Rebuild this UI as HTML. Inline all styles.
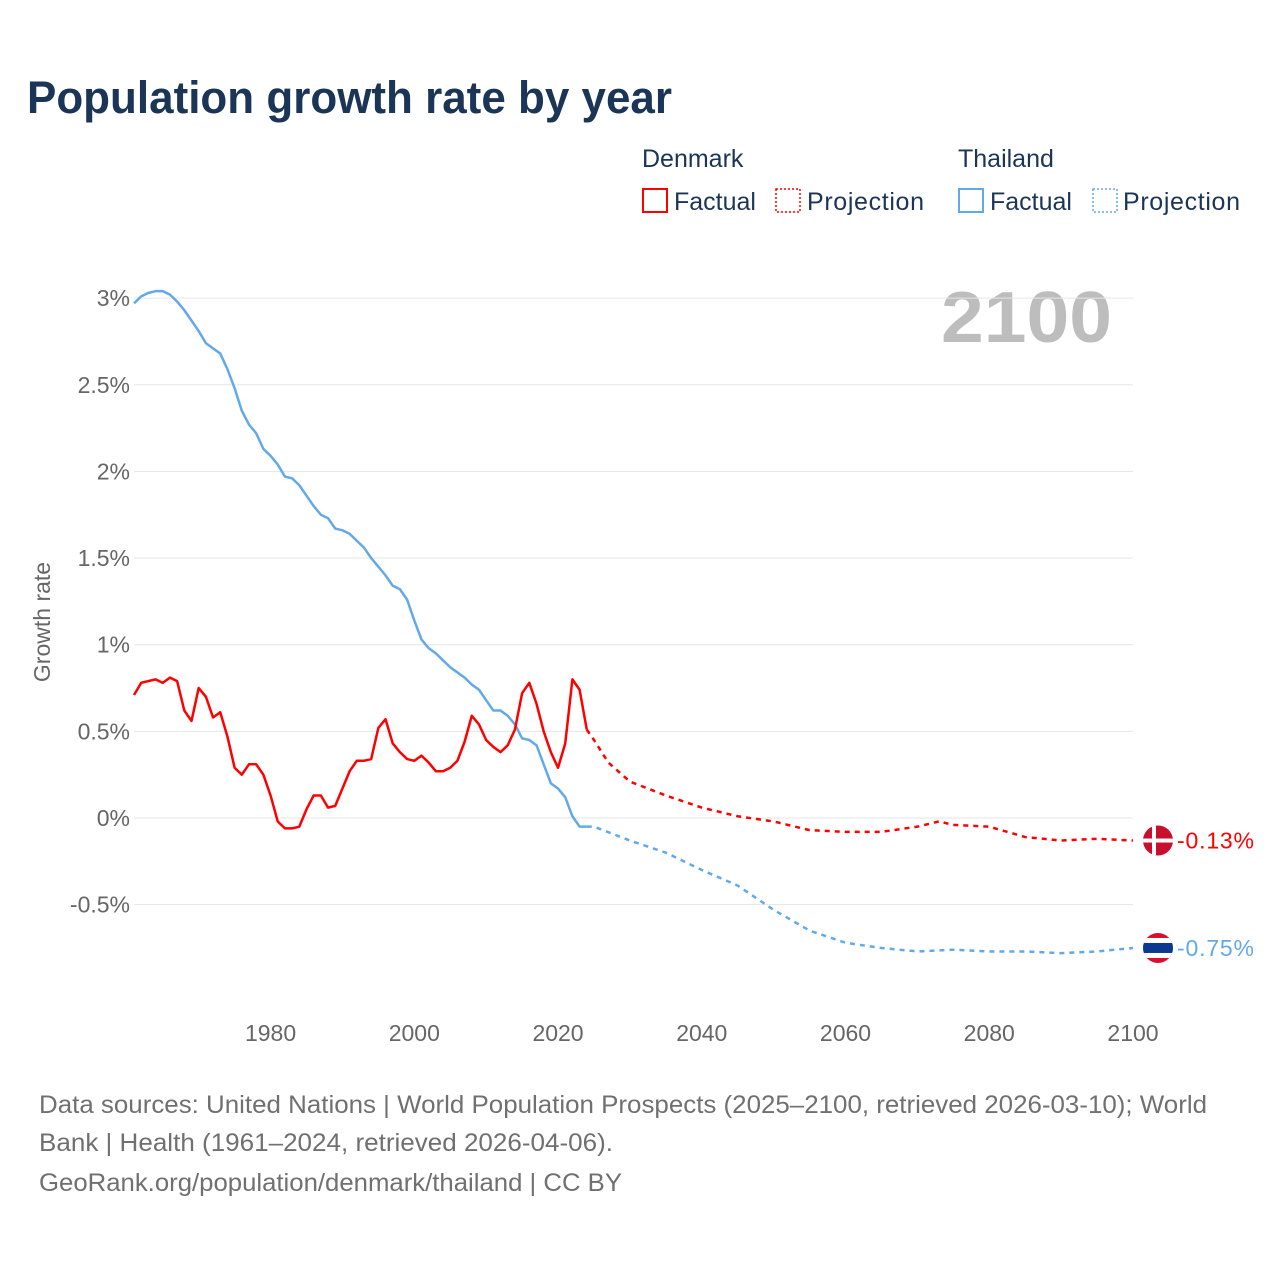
<!DOCTYPE html>
<html><head><meta charset="utf-8"><style>
body{margin:0;width:1280px;height:1280px;background:#fff;font-family:"Liberation Sans",sans-serif;overflow:hidden}
</style></head><body>
<svg width="1280" height="1280" xmlns="http://www.w3.org/2000/svg">
<text x="27" y="113" font-size="45" font-weight="bold" fill="#1b3556" textLength="645" lengthAdjust="spacingAndGlyphs">Population growth rate by year</text>
<g font-size="25" fill="#1b3556">
<text x="642" y="167">Denmark</text>
<text x="958" y="167">Thailand</text>
<rect x="643" y="189" width="24" height="23" fill="none" stroke="#f00" stroke-width="2"/>
<text x="674" y="210">Factual</text>
<rect x="776" y="189" width="24" height="23" fill="none" stroke="#f00" stroke-width="1.5" stroke-dasharray="2,2"/>
<text x="807" y="210" textLength="117">Projection</text>
<rect x="959" y="189" width="24" height="23" fill="none" stroke="#63a9ea" stroke-width="2"/>
<text x="990" y="210">Factual</text>
<rect x="1093" y="189" width="24" height="23" fill="none" stroke="#63a9ea" stroke-width="1.5" stroke-dasharray="2,2"/>
<text x="1123" y="210" textLength="117">Projection</text>
</g>
<text x="941" y="342" font-size="72" font-weight="bold" fill="#bdbdbd" textLength="171" lengthAdjust="spacingAndGlyphs">2100</text>
<text transform="translate(50,622) rotate(-90)" font-size="23" fill="#666" text-anchor="middle">Growth rate</text>
<g id="grid"></g><g id="lines"></g>
<g font-size="25" fill="#707070">
<text x="39" y="1113" textLength="1168" lengthAdjust="spacingAndGlyphs">Data sources: United Nations | World Population Prospects (2025–2100, retrieved 2026-03-10); World</text>
<text x="39" y="1151" textLength="574" lengthAdjust="spacingAndGlyphs">Bank | Health (1961–2024, retrieved 2026-04-06).</text>
<text x="39" y="1191" textLength="583" lengthAdjust="spacingAndGlyphs">GeoRank.org/population/denmark/thailand | CC BY</text>
</g>
</svg>
<script>
const yTicks=[3,2.5,2,1.5,1,0.5,0,-0.5];
const yTickLabels=["3%","2.5%","2%","1.5%","1%","0.5%","0%","-0.5%"];
const xTicks=[1980,2000,2020,2040,2060,2080,2100];
const factualYears=[];for(let y=1961;y<=2024;y++)factualYears.push(y);
const thFactual=[2.97,3.01,3.03,3.04,3.04,3.02,2.98,2.93,2.87,2.81,2.74,2.71,2.68,2.59,2.48,2.35,2.27,2.22,2.13,2.09,2.04,1.97,1.96,1.92,1.86,1.80,1.75,1.73,1.67,1.66,1.64,1.60,1.56,1.50,1.45,1.40,1.34,1.32,1.26,1.14,1.03,0.98,0.95,0.91,0.87,0.84,0.81,0.77,0.74,0.68,0.62,0.62,0.59,0.54,0.46,0.45,0.42,0.31,0.20,0.17,0.12,0.01,-0.05,-0.05];
const dkFactual=[0.71,0.78,0.79,0.80,0.78,0.81,0.79,0.62,0.56,0.75,0.70,0.58,0.61,0.47,0.29,0.25,0.31,0.31,0.25,0.13,-0.02,-0.06,-0.06,-0.05,0.05,0.13,0.13,0.06,0.07,0.17,0.27,0.33,0.33,0.34,0.52,0.57,0.43,0.38,0.34,0.33,0.36,0.32,0.27,0.27,0.29,0.33,0.44,0.59,0.54,0.45,0.41,0.38,0.42,0.51,0.72,0.78,0.66,0.50,0.38,0.29,0.43,0.80,0.74,0.51];
const dkProjYears=[2024,2025,2027,2030,2035,2040,2045,2050,2055,2060,2065,2070,2073,2075,2080,2085,2090,2095,2100];
const dkProj=[0.51,0.45,0.32,0.21,0.13,0.06,0.01,-0.02,-0.07,-0.08,-0.08,-0.05,-0.02,-0.04,-0.05,-0.11,-0.13,-0.12,-0.13];
const thProjYears=[2024,2025,2030,2035,2040,2045,2050,2055,2060,2065,2070,2075,2080,2085,2090,2095,2100];
const thProj=[-0.05,-0.05,-0.13,-0.2,-0.3,-0.39,-0.53,-0.65,-0.72,-0.75,-0.77,-0.76,-0.77,-0.77,-0.78,-0.77,-0.75];
const X=y=>134+(y-1961)*(1133-134)/(2100-1961);
const Y=v=>818-v*173.3;
const NS="http://www.w3.org/2000/svg";
const grid=document.getElementById('grid'),lines=document.getElementById('lines');
function mk(t,a,p){const e=document.createElementNS(NS,t);for(const k in a)e.setAttribute(k,a[k]);p.appendChild(e);return e;}
yTicks.forEach((v,i)=>{
 const l=mk('line',{x1:134,x2:1133,y1:Y(v),y2:Y(v),stroke:'#e6e6e6','stroke-width':1},grid);
 
 
 const t=mk('text',{x:130,y:Y(v)+8,'font-size':23,fill:'#666','text-anchor':'end'},grid);t.textContent=yTickLabels[i];
 
 
});
xTicks.forEach(y=>{
 const t=mk('text',{x:X(y),y:1041,'font-size':23,fill:'#666','text-anchor':'middle'},grid);t.textContent=y;
 
 
});
function line(xs,vs,color,dash,name){
 const p=mk('polyline',{points:xs.map((x,i)=>X(x)+','+Y(vs[i])).join(' '),fill:'none',stroke:color,'stroke-width':2.5,'stroke-linejoin':'round'},lines);
 if(dash)p.setAttribute('stroke-dasharray','5,5');
 
 
}
line(thProjYears,thProj,'#63a9ea',true,'thailand-projection-line');
line(dkProjYears,dkProj,'#f00',true,'denmark-projection-line');
line(factualYears,thFactual,'#63a9ea',false,'thailand-factual-line');
line(factualYears,dkFactual,'#f00',false,'denmark-factual-line');
const dkY=Y(dkProj[dkProj.length-1]),thY=Y(thProj[thProj.length-1]);
const fg=mk('g',{},lines);


fg.innerHTML=`<defs><clipPath id="c1"><circle cx="1158" cy="${dkY}" r="15"/></clipPath><clipPath id="c2"><circle cx="1158" cy="${thY}" r="15"/></clipPath></defs>
<g clip-path="url(#c1)"><rect x="1143" y="${dkY-15}" width="30" height="30" fill="#c8102e"/><rect x="1152" y="${dkY-15}" width="4" height="30" fill="#fff"/><rect x="1143" y="${dkY-2}" width="30" height="4" fill="#fff"/></g>
<g clip-path="url(#c2)"><rect x="1143" y="${thY-15}" width="30" height="30" fill="#d8102e"/><rect x="1143" y="${thY-10}" width="30" height="20" fill="#fff"/><rect x="1143" y="${thY-5}" width="30" height="10" fill="#0a3a8f"/></g>
<text x="1177" y="${dkY+8}" font-size="23" fill="#f00" textLength="77">-0.13%</text>
<text x="1177" y="${thY+8}" font-size="23" fill="#63a9ea" textLength="77">-0.75%</text>`;
</script>
</body></html>
